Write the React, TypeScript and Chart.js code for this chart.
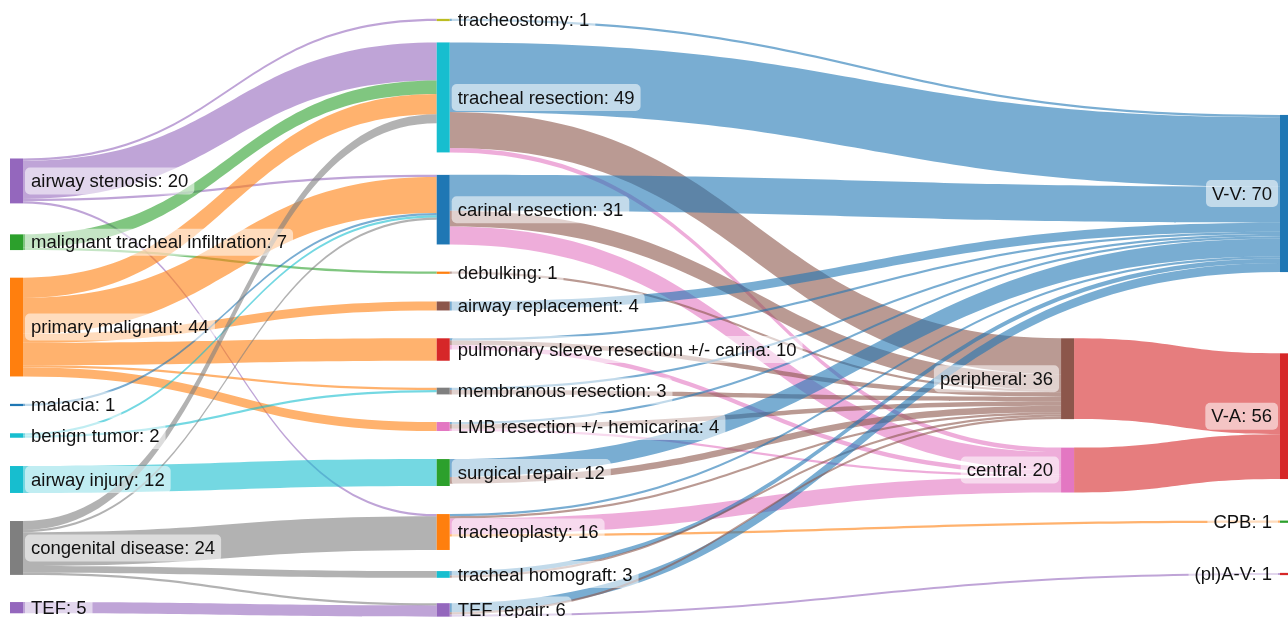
import React, { useEffect, useRef } from "react";
import { Chart, registerables } from "chart.js";

Chart.register(...registerables);

// ---------- data ----------
const nodeNames = [
  "airway stenosis",
  "malignant tracheal infiltration",
  "primary malignant",
  "malacia",
  "benign tumor",
  "airway injury",
  "congenital disease",
  "TEF",
  "tracheostomy",
  "tracheal resection",
  "carinal resection",
  "debulking",
  "airway replacement",
  "pulmonary sleeve resection +/- carina",
  "membranous resection",
  "LMB resection +/- hemicarina",
  "surgical repair",
  "tracheoplasty",
  "tracheal homograft",
  "TEF repair",
  "peripheral",
  "central",
  "V-V",
  "V-A",
  "CPB",
  "(pl)A-V",
];

const linkSource = [
  0, 0, 0, 0,
  1, 1,
  2, 2, 2, 2, 2, 2,
  3,
  4, 4,
  5,
  6, 6, 6, 6, 6,
  7,
  8,
  9, 9, 9,
  10, 10, 10,
  11,
  12,
  13, 13, 13,
  14, 14,
  15, 15, 15,
  16, 16,
  17, 17, 17, 17,
  18, 18,
  19, 19, 19,
  20,
  21,
];
const linkTarget = [
  8, 9, 10, 17,
  9, 11,
  9, 10, 12, 13, 14, 15,
  10,
  10, 14,
  16,
  9, 10, 17, 18, 19,
  19,
  22,
  22, 20, 21,
  22, 20, 21,
  20,
  22,
  22, 20, 21,
  22, 20,
  22, 20, 21,
  22, 20,
  22, 20, 21, 24,
  22, 20,
  22, 20, 25,
  23,
  23,
];
const linkValue = [
  1, 17, 1, 1,
  6, 1,
  9, 16, 4, 10, 1, 4,
  1,
  1, 1,
  12,
  4, 1, 15, 3, 1,
  5,
  1,
  31, 16, 2,
  16, 7, 8,
  1,
  4,
  1, 2, 2,
  1, 2,
  1, 2, 1,
  8, 3,
  1, 1, 7, 1,
  2, 1,
  4, 1, 1,
  36,
  20,
];

// ---------- layout (arrangement of nodes, in value units / column index) ----------
const nodeColumn = [0, 0, 0, 0, 0, 0, 0, 0, 1, 1, 1, 1, 1, 1, 1, 1, 1, 1, 1, 1, 2, 2, 3, 3, 3, 3];
const nodeTop = [
  70.6, 104.4, 123.7, 179.9, 193.0, 207.6, 232.1, 268.2,
  8.4, 18.9, 77.9, 121.0, 134.3, 150.7, 172.7, 188.0, 204.5, 229.0, 254.4, 268.7,
  150.7, 199.4,
  51.2, 157.4, 231.9, 255.2,
];
const columnX = [0, 0.336, 0.8276, 1];
const Y_MAX = 275.3;

// ---------- styles ----------
const C = {
  blue: "#1f77b4",
  orange: "#ff7f0e",
  green: "#2ca02c",
  red: "#d62728",
  purple: "#9467bd",
  brown: "#8c564b",
  pink: "#e377c2",
  gray: "#7f7f7f",
  olive: "#bcbd22",
  teal: "#17becf",
};
const nodeColors = [
  C.purple, C.green, C.orange, C.blue, C.teal, C.teal, C.gray, C.purple,
  C.olive, C.teal, C.blue, C.orange, C.brown, C.red, C.gray, C.pink, C.green, C.orange, C.teal, C.purple,
  C.brown, C.pink,
  C.blue, C.red, C.green, C.red,
];
const targetColoredNodes = ["peripheral", "central", "V-V", "V-A"];
const NODE_W = 13;
const LINK_ALPHA = 0.6;
const FONT = '18.5px "Liberation Sans", Arial, sans-serif';

function hexToRgba(hex: string, a: number) {
  const v = parseInt(hex.slice(1), 16);
  return `rgba(${(v >> 16) & 255},${(v >> 8) & 255},${v & 255},${a})`;
}

const sankeyPlugin = {
  id: "sankeyDraw",
  afterDraw(chart: any) {
    const ctx: CanvasRenderingContext2D = chart.ctx;
    const xs = chart.scales.x;
    const ys = chart.scales.y;
    const n = nodeNames.length;
    const L = linkValue.length;
    const inSum = new Array(n).fill(0);
    const outSum = new Array(n).fill(0);
    for (let l = 0; l < L; l++) {
      outSum[linkSource[l]] += linkValue[l];
      inSum[linkTarget[l]] += linkValue[l];
    }
    const nodeValue = nodeNames.map((_, i) => Math.max(inSum[i], outSum[i]));

    const sy: number[] = new Array(L).fill(0);
    const ty: number[] = new Array(L).fill(0);
    for (let i = 0; i < n; i++) {
      const outs = [];
      const ins = [];
      for (let l = 0; l < L; l++) {
        if (linkSource[l] === i) outs.push(l);
        if (linkTarget[l] === i) ins.push(l);
      }
      outs.sort((a, b) => nodeTop[linkTarget[a]] - nodeTop[linkTarget[b]]);
      ins.sort((a, b) => nodeTop[linkSource[a]] - nodeTop[linkSource[b]]);
      let y = nodeTop[i];
      outs.forEach((l) => { sy[l] = y; y += linkValue[l]; });
      y = nodeTop[i];
      ins.forEach((l) => { ty[l] = y; y += linkValue[l]; });
    }

    const nx = (i: number) => xs.getPixelForValue(columnX[nodeColumn[i]]);
    const py = (v: number) => ys.getPixelForValue(v);

    ctx.save();
    // links
    for (let l = 0; l < L; l++) {
      const s = linkSource[l];
      const t = linkTarget[l];
      const v = linkValue[l];
      const x0 = nx(s) + NODE_W;
      const x1 = nx(t);
      const xm = (x0 + x1) / 2;
      const a0 = py(sy[l]);
      const b0 = py(sy[l] + v);
      const a1 = py(ty[l]);
      const b1 = py(ty[l] + v);
      const colorNode = nodeColumn[s] > 0 && targetColoredNodes.includes(nodeNames[t]) ? t : s;
      ctx.beginPath();
      ctx.moveTo(x0, a0);
      ctx.bezierCurveTo(xm, a0, xm, a1, x1, a1);
      ctx.lineTo(x1, b1);
      ctx.bezierCurveTo(xm, b1, xm, b0, x0, b0);
      ctx.closePath();
      ctx.fillStyle = hexToRgba(nodeColors[colorNode], LINK_ALPHA);
      ctx.fill();
    }
    // nodes
    for (let i = 0; i < n; i++) {
      const x = nx(i);
      const y0 = py(nodeTop[i]);
      const y1 = py(nodeTop[i] + nodeValue[i]);
      ctx.fillStyle = nodeColors[i];
      ctx.fillRect(x, y0, NODE_W, y1 - y0);
    }
    // labels
    ctx.font = FONT;
    ctx.textBaseline = "middle";
    for (let i = 0; i < n; i++) {
      const text = `${nodeNames[i]}: ${nodeValue[i]}`;
      const w = ctx.measureText(text).width;
      const cy = py(nodeTop[i] + nodeValue[i] / 2);
      const leftSide = nodeColumn[i] >= 2;
      const tx = leftSide ? nx(i) - 8 - w : nx(i) + NODE_W + 8;
      const bx = tx - 6;
      const bw = w + 12;
      const bh = 27;
      ctx.fillStyle = "rgba(255,255,255,0.55)";
      ctx.beginPath();
      if ((ctx as any).roundRect) (ctx as any).roundRect(bx, cy - bh / 2, bw, bh, 5);
      else ctx.rect(bx, cy - bh / 2, bw, bh);
      ctx.fill();
      ctx.fillStyle = "#111";
      ctx.textAlign = "left";
      ctx.fillText(text, tx, cy + 1);
    }
    ctx.restore();
  },
};

export default function App() {
  const ref = useRef<HTMLCanvasElement | null>(null);
  useEffect(() => {
    document.body.style.margin = "0";
    const canvas = ref.current!;
    const chart = new Chart(canvas, {
      type: "scatter",
      data: { datasets: [] },
      options: {
        animation: false,
        responsive: false,
        maintainAspectRatio: false,
        devicePixelRatio: 1,
        layout: { padding: { left: 10, right: 8, top: 0, bottom: 0 } },
        plugins: { legend: { display: false }, tooltip: { enabled: false } },
        scales: {
          x: { type: "linear", min: 0, max: 1, display: false },
          y: { type: "linear", min: 0, max: Y_MAX, reverse: true, display: false },
        },
      },
      plugins: [sankeyPlugin],
    });
    return () => chart.destroy();
  }, []);
  return (
    <div style={{ position: "absolute", left: 0, top: 0, width: 1288, height: 618, background: "#fff" }}>
      <canvas ref={ref} width={1288} height={618} />
    </div>
  );
}
